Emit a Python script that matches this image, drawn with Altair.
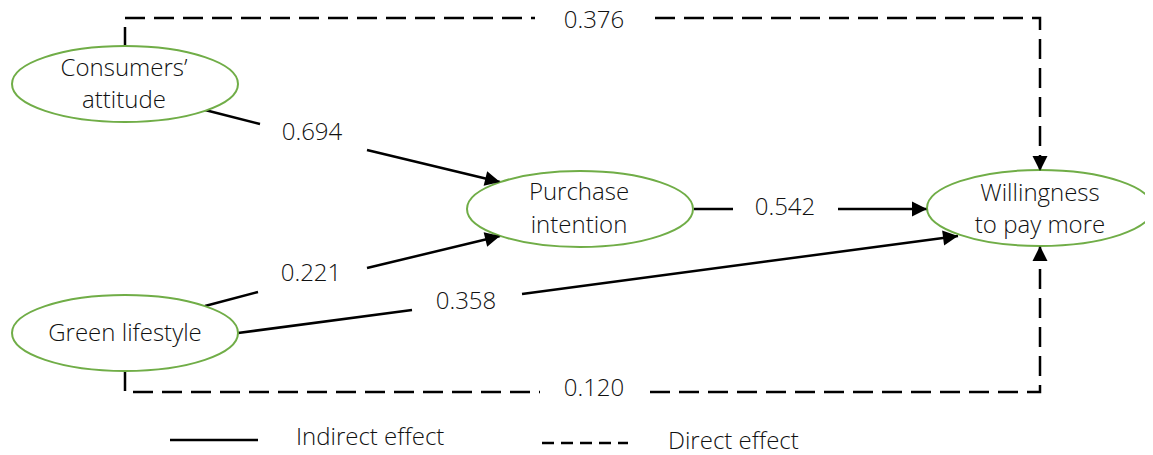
import math
import altair as alt
import pandas as pd

# ---- diagram data (pixel-space coordinates of the path diagram) ----
node_x = [125, 580, 1040, 125]
node_y = [84, 209, 208, 333]

label_text = ["Consumers’", "attitude", "Purchase", "intention",
              "Willingness", "to pay more", "Green lifestyle"]
label_x = [124, 124, 579, 579, 1040, 1040, 125]
label_y = [69, 101, 193, 226, 194, 226, 334]

coef_text = ["0.376", "0.694", "0.542", "0.221", "0.358", "0.120"]
coef_x = [594, 312, 785, 311, 466, 594]
coef_y = [21, 133, 208, 274, 302, 389]

# indirect (solid) segments: x1, y1, x2, y2
solid_x1 = [205, 367, 205, 367, 694, 838, 238, 522]
solid_y1 = [110, 150, 306, 268, 209, 209, 333, 294]
solid_x2 = [260, 500, 258, 500, 733, 927, 412, 958]
solid_y2 = [124, 182, 292, 236, 209, 209, 310, 236]

# direct (dashed) polylines
dash_group = ["t1", "t1", "t1", "t2", "t2", "t2", "b1", "b1", "b1", "b2", "b2", "b2"]
dash_x = [125, 125, 535, 655, 1040, 1040, 125, 125, 540, 650, 1040, 1040]
dash_y = [47, 18, 18, 18, 18, 171, 371, 392, 392, 392, 392, 246]

# arrowheads: tip and the point the arrow comes from
arrow_x = [500, 500, 927, 958, 1040, 1040]
arrow_y = [182, 236, 209, 236, 171, 246]
arrow_fx = [367, 367, 838, 522, 1040, 1040]
arrow_fy = [150, 268, 209, 294, 18, 392]

legend_text = ["Indirect effect", "Direct effect"]
legend_tx = [296, 668]
legend_ty = [438, 442]
legend_ly = [440, 443]
legend_lx1 = [170, 542]
legend_lx2 = [258, 628]

GREEN = "#70AD47"
FONT = "Open Sans"
FS = 24
FW = 300
TXT = "#111111"

X = lambda f="x": alt.X(f"{f}:Q", scale=alt.Scale(domain=[8, 1145], nice=False, zero=False), axis=None)
Y = lambda f="y": alt.Y(f"{f}:Q", scale=alt.Scale(domain=[8, 455], reverse=True, nice=False, zero=False), axis=None)

nodes = pd.DataFrame({"x": node_x, "y": node_y})
labels = pd.DataFrame({"x": label_x, "y": label_y, "t": label_text})
coefs = pd.DataFrame({"x": coef_x, "y": coef_y, "t": coef_text})
solid = pd.DataFrame({"x": solid_x1, "y": solid_y1, "x2": solid_x2, "y2": solid_y2})
dashed = pd.DataFrame({"g": dash_group, "x": dash_x, "y": dash_y, "i": list(range(len(dash_x)))})
angles = [math.degrees(math.atan2(tx - fx, -(ty - fy))) % 360
          for tx, ty, fx, fy in zip(arrow_x, arrow_y, arrow_fx, arrow_fy)]
arrows = pd.DataFrame({"x": arrow_x, "y": arrow_y, "a": angles})
leg_t = pd.DataFrame({"x": legend_tx, "y": legend_ty, "t": legend_text})
leg_solid = pd.DataFrame({"x": [legend_lx1[0]], "x2": [legend_lx2[0]], "y": [legend_ly[0]]})
leg_dash = pd.DataFrame({"x": [legend_lx1[1]], "x2": [legend_lx2[1]], "y": [legend_ly[1]]})

ELLIPSE = "M -1 0 A 1 0.336 0 1 1 1 0 A 1 0.336 0 1 1 -1 0 Z"
ARROW = "M 0 0 L -0.5 1 L 0.5 1 Z"

solid_layer = alt.Chart(solid).mark_rule(color="black", strokeWidth=2.5).encode(
    x=X(), y=Y(), x2="x2:Q", y2="y2:Q")

dash_layer = alt.Chart(dashed).mark_line(color="black", strokeWidth=2.5, strokeDash=[20, 9]).encode(
    x=X(), y=Y(), detail="g:N", order="i:Q")

ellipse_layer = alt.Chart(nodes).mark_point(
    shape=ELLIPSE, size=226 * 226, filled=True, fill="white", fillOpacity=1,
    stroke=GREEN, strokeWidth=2, opacity=1).encode(x=X(), y=Y())

arrow_layer = alt.Chart(arrows).mark_point(
    shape=ARROW, size=900, filled=True, color="black", opacity=1).encode(
    x=X(), y=Y(), angle=alt.Angle("a:Q", scale=None))

label_layer = alt.Chart(labels).mark_text(
    font=FONT, fontSize=FS, fontWeight=FW, color=TXT, align="center", baseline="middle").encode(
    x=X(), y=Y(), text="t:N")

coef_layer = alt.Chart(coefs).mark_text(
    font=FONT, fontSize=FS, fontWeight=FW, color=TXT, align="center", baseline="middle").encode(
    x=X(), y=Y(), text="t:N")

leg_solid_layer = alt.Chart(leg_solid).mark_rule(color="black", strokeWidth=2.5).encode(
    x=X(), x2="x2:Q", y=Y())
leg_dash_layer = alt.Chart(leg_dash).mark_rule(color="black", strokeWidth=2.5, strokeDash=[12, 7]).encode(
    x=X(), x2="x2:Q", y=Y())
leg_text_layer = alt.Chart(leg_t).mark_text(
    font=FONT, fontSize=FS, fontWeight=FW, color=TXT, align="left", baseline="middle").encode(
    x=X(), y=Y(), text="t:N")

chart = alt.layer(
    solid_layer, dash_layer, ellipse_layer, arrow_layer, label_layer, coef_layer,
    leg_solid_layer, leg_dash_layer, leg_text_layer
).properties(width=1137, height=447, padding=0, autosize="none").configure_view(stroke=None)

chart.save("out.html", embed_options={"renderer": "svg", "actions": False})
